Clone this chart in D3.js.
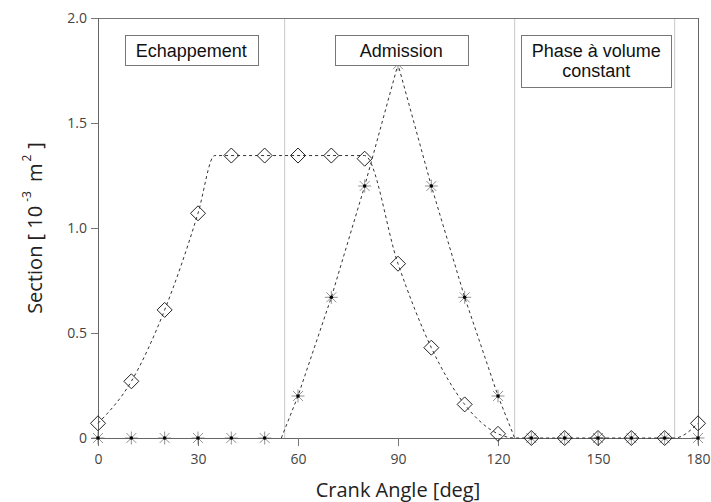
<!DOCTYPE html>
<html>
<head>
<meta charset="utf-8">
<script src="https://cdn.jsdelivr.net/npm/d3@7/dist/d3.min.js"></script>
<style>
  html, body { margin: 0; padding: 0; background: #fff; }
  svg { display: block; }
</style>
</head>
<body>
<svg id="chart" width="711" height="502"></svg>
<script>
// ---- data ----
const angles = [0,10,20,30,40,50,60,70,80,90,100,110,120,130,140,150,160,170,180];
const exhaustValues = [0.07,0.27,0.61,1.07,1.345,1.345,1.345,1.345,1.33,0.83,0.43,0.16,0.02,0,0,0,0,0,0.07];
const admissionValues = [0,0,0,0,0,0,0.2,0.67,1.2,1.78,1.2,0.67,0.2,0,0,0,0,0,0];
// dashed model curves (break points)
const exhaustCurveAngles = [0,10,20,30,35,80,90,100,110,120,125,173,180];
const exhaustCurveValues = [0.07,0.27,0.61,1.07,1.345,1.345,0.83,0.43,0.16,0.02,0,0,0.07];
const admissionCurveAngles = [55,60,70,80,90,100,110,120,125];
const admissionCurveValues = [0,0.2,0.67,1.2,1.78,1.2,0.67,0.2,0];
const phaseBounds = [56,125,173];
const xTicks = [0,30,60,90,120,150,180];
const yTicks = [0,0.5,1.0,1.5,2.0];
const yTickLabels = ["0","0.5","1.0","1.5","2.0"];
const phaseLabels = [
  {lines:["Echappement"], x0:8, x1:48},
  {lines:["Admission"], x0:71, x1:111},
  {lines:["Phase à volume","constant"], x0:127, x1:172}
];

// ---- layout ----
const svg = d3.select("#chart");
const L = 98, R = 698, T = 18, B = 438;
const x = d3.scaleLinear().domain([0,180]).range([L,R]);
const y = d3.scaleLinear().domain([0,2]).range([B,T]);

// phase boundary lines
svg.selectAll("line.phase").data(phaseBounds).join("line")
  .attr("x1", d=>x(d)).attr("x2", d=>x(d))
  .attr("y1", T).attr("y2", B)
  .attr("stroke", "#c8c8c8").attr("stroke-width", 1);

// frame top and right
svg.append("line").attr("x1",L).attr("x2",R).attr("y1",T+0.5).attr("y2",T+0.5)
  .attr("stroke","#777").attr("stroke-width",1);
svg.append("line").attr("x1",R+0.5).attr("x2",R+0.5).attr("y1",T).attr("y2",B)
  .attr("stroke","#666").attr("stroke-width",1);

// axes
const xAxis = svg.append("g").attr("transform",`translate(0,${B})`)
  .call(d3.axisBottom(x).tickValues(xTicks).tickSize(8).tickPadding(8).tickFormat(d3.format("d")));
const yAxis = svg.append("g").attr("transform",`translate(${L},0)`)
  .call(d3.axisLeft(y).tickValues(yTicks).tickSize(7).tickPadding(4)
    .tickFormat((d,i)=>yTickLabels[i]));
[xAxis,yAxis].forEach(g=>{
  g.select(".domain").attr("stroke","#666");
  g.selectAll(".tick line").attr("stroke","#777");
  g.selectAll(".tick text").attr("fill","#444")
    .style("font-family","'Open Sans', sans-serif").style("font-size","14px");
});

// dashed curves
const lineGen = d3.line().x(d=>x(d[0])).y(d=>y(d[1]));
svg.append("path")
  .datum(exhaustCurveAngles.map((a,i)=>[a,exhaustCurveValues[i]]))
  .attr("d", lineGen.curve(d3.curveMonotoneX))
  .attr("fill","none").attr("stroke","#333").attr("stroke-width",1)
  .attr("stroke-dasharray","3,3");
svg.append("path")
  .datum(admissionCurveAngles.map((a,i)=>[a,admissionCurveValues[i]]))
  .attr("d", d3.line().x(d=>x(d[0])).y(d=>y(d[1])).curve(d3.curveLinear))
  .attr("fill","none").attr("stroke","#333").attr("stroke-width",1)
  .attr("stroke-dasharray","3,3");

// star markers
const star = svg.append("g").selectAll("g").data(angles.map((a,i)=>[a,admissionValues[i]])).join("g")
  .attr("transform", d=>`translate(${x(d[0])},${y(d[1])})`);
const s = 6.5, sd = 5;
[[-s,0,s,0],[0,-s,0,s],[-sd,-sd,sd,sd],[-sd,sd,sd,-sd]].forEach(c=>{
  star.append("line").attr("x1",c[0]).attr("y1",c[1]).attr("x2",c[2]).attr("y2",c[3])
    .attr("stroke","#666").attr("stroke-width",0.7);
});
star.append("circle").attr("r",1.8).attr("fill","#000");

// diamond markers
svg.append("g").selectAll("path").data(angles.map((a,i)=>[a,exhaustValues[i]])).join("path")
  .attr("transform", d=>`translate(${x(d[0])},${y(d[1])})`)
  .attr("d", "M0,-7.5L7.5,0L0,7.5L-7.5,0Z")
  .attr("fill","none").attr("stroke","#222").attr("stroke-width",1);

// phase label boxes
const boxTop = 35;
phaseLabels.forEach(p=>{
  const x0 = x(p.x0), x1 = x(p.x1);
  const h = p.lines.length === 1 ? 30 : 52;
  svg.append("rect").attr("x",Math.round(x0)+0.5).attr("y",boxTop+0.5)
    .attr("width",Math.round(x1-x0)).attr("height",h)
    .attr("fill","#fff").attr("stroke","#777").attr("stroke-width",1);
  p.lines.forEach((t,i)=>{
    svg.append("text").attr("x",(x0+x1)/2).attr("y",boxTop+22+i*20)
      .attr("text-anchor","middle")
      .style("font-family","'Liberation Sans', Arial, sans-serif").style("font-size","18px")
      .attr("fill","#111").text(t);
  });
});

// axis titles
svg.append("text").attr("x",(L+R)/2).attr("y",497).attr("text-anchor","middle")
  .style("font-family","'Open Sans', sans-serif").style("font-size","20px").attr("fill","#222")
  .text("Crank Angle [deg]");
const yt = svg.append("text").attr("transform","translate(42,228) rotate(-90)")
  .attr("text-anchor","middle")
  .style("font-family","'Open Sans', sans-serif").style("font-size","20px").attr("fill","#222");
yt.append("tspan").text("Section [ 10");
yt.append("tspan").attr("dx",4).attr("dy",-11).style("font-size","12px").text("-3");
yt.append("tspan").attr("dx",9).attr("dy",11).text("m");
yt.append("tspan").attr("dx",2).attr("dy",-11).style("font-size","12px").text("2");
yt.append("tspan").attr("dx",6).attr("dy",11).text("]");
</script>
</body>
</html>
